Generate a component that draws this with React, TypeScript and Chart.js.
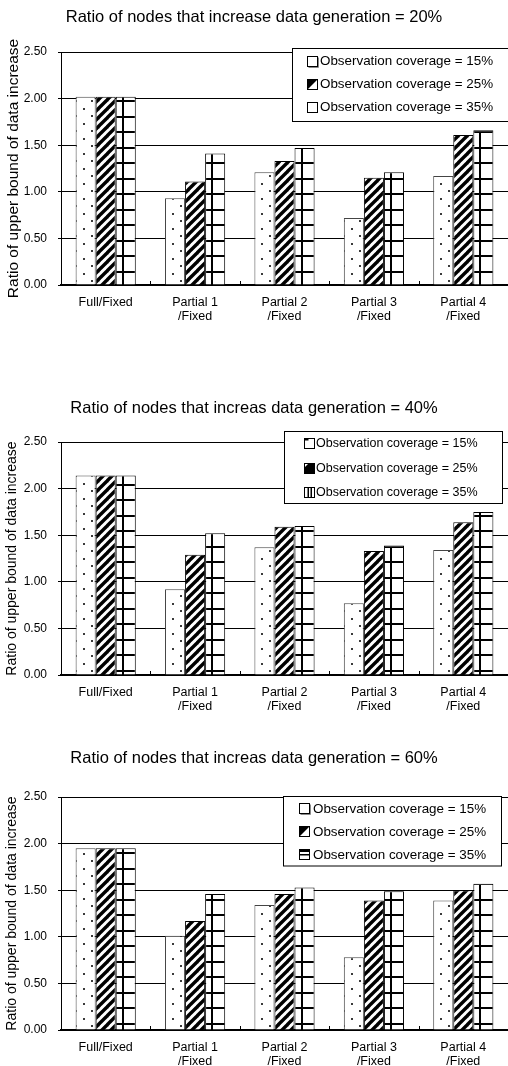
import { useEffect, useRef } from "react";
import { Chart, registerables } from "chart.js";

Chart.register(...registerables);

// ---- data ----
const categories: string[][] = [
  ["Full/Fixed"],
  ["Partial 1", "/Fixed"],
  ["Partial 2", "/Fixed"],
  ["Partial 3", "/Fixed"],
  ["Partial 4", "/Fixed"],
];
const seriesNames = [
  "Observation coverage = 15%",
  "Observation coverage = 25%",
  "Observation coverage = 35%",
];
const yTickValues = [0, 0.5, 1, 1.5, 2, 2.5];
const yAxisTitle = "Ratio of upper bound of data increase";

const title20 = "Ratio of nodes that increase data generation = 20%";
const title40 = "Ratio of nodes that increas data generation = 40%";
const title60 = "Ratio of nodes that increas data generation = 60%";

const cov15At20 = [2.02, 0.93, 1.21, 0.72, 1.17];
const cov25At20 = [2.02, 1.11, 1.33, 1.15, 1.61];
const cov35At20 = [2.02, 1.41, 1.47, 1.21, 1.66];

const cov15At40 = [2.14, 0.92, 1.37, 0.77, 1.34];
const cov25At40 = [2.14, 1.29, 1.59, 1.33, 1.64];
const cov35At40 = [2.14, 1.52, 1.6, 1.39, 1.75];

const cov15At60 = [1.95, 1.01, 1.34, 0.78, 1.39];
const cov25At60 = [1.95, 1.17, 1.46, 1.39, 1.5];
const cov35At60 = [1.95, 1.46, 1.53, 1.49, 1.57];

// ---- style ----
const FONT = "'Liberation Sans', Arial, sans-serif";
const CAT_PCT = 0.673;
const CANVAS_W = 508;
const CANVAS_H = 330;

type LegendStyle = {
  box: [number, number, number, number];
  rows: number[];
  iconX: number;
  textX: number;
  fontSize: number;
  icons: string[];
};

type Panel = {
  title: string;
  values: number[][];
  top: number;
  titlePad: [number, number];
  yTitleSize: number;
  gridPhase: number;
  legend: LegendStyle;
};

const panels: Panel[] = [
  {
    title: title20,
    values: [cov15At20, cov25At20, cov35At20],
    top: 0,
    titlePad: [7.6, 24.6],
    yTitleSize: 15.5,
    gridPhase: 14,
    legend: {
      box: [292, 47.5, 220, 73],
      rows: [60.7, 83.5, 106.7],
      iconX: 307,
      textX: 320,
      fontSize: 13.4,
      icons: ["shadow", "halfUL", "plain"],
    },
  },
  {
    title: title40,
    values: [cov15At40, cov25At40, cov35At40],
    top: 390,
    titlePad: [8.4, 23.8],
    yTitleSize: 14,
    gridPhase: 5,
    legend: {
      box: [284, 40.5, 218, 72],
      rows: [53, 77.5, 101.5],
      iconX: 304,
      textX: 316,
      fontSize: 12.5,
      icons: ["topMark", "mostlyBlack", "vbars"],
    },
  },
  {
    title: title60,
    values: [cov15At60, cov25At60, cov35At60],
    top: 745,
    titlePad: [3.6, 28.6],
    yTitleSize: 14,
    gridPhase: 7,
    legend: {
      box: [283, 50.5, 218, 69.5],
      rows: [63, 86, 109],
      iconX: 299,
      textX: 313,
      fontSize: 13.4,
      icons: ["shadow", "halfUL", "hbar"],
    },
  },
];

// ---- fill patterns ----
function makeTile(w: number, h: number, draw: (g: CanvasRenderingContext2D) => void) {
  const c = document.createElement("canvas");
  c.width = w;
  c.height = h;
  const g = c.getContext("2d")!;
  g.fillStyle = "#fff";
  g.fillRect(0, 0, w, h);
  draw(g);
  return c;
}

const dotTile = makeTile(16, 15, (g) => {
  g.fillStyle = "#3a3a3a";
  g.fillRect(4, 3, 2, 2);
  g.fillRect(12, 10, 2, 2);
});

const stripeTile = makeTile(9, 9, (g) => {
  g.strokeStyle = "#000";
  g.lineWidth = 3.4;
  for (const dx of [-9, 0, 9]) {
    g.beginPath();
    g.moveTo(dx - 1, 10);
    g.lineTo(dx + 10, -1);
    g.stroke();
  }
});

const gridTile = makeTile(40, 31, (g) => {
  g.fillStyle = "#000";
  g.fillRect(0, 0, 40, 2);
  g.fillRect(0, 15, 40, 2);
  g.fillRect(0, 0, 2, 31);
});

function barLeft(chart: Chart, dataIndex: number, datasetIndex: number) {
  const xs = chart.scales.x;
  const center = xs.getPixelForValue(dataIndex);
  const group = (xs.width / categories.length) * CAT_PCT;
  return center - group / 2 + (datasetIndex * group) / 3;
}

function patternFill(kind: number, gridPhase: number) {
  return (c: any) => {
    const chart: Chart = c.chart;
    if (c.type !== "data" || !chart.chartArea || !chart.scales.x) return "#fff";
    const ctx = chart.ctx;
    const left = barLeft(chart, c.dataIndex, c.datasetIndex);
    const bottom = chart.chartArea.bottom;
    if (kind === 0) {
      const p = ctx.createPattern(dotTile, "repeat")!;
      p.setTransform(new DOMMatrix().translate(Math.round(left + 3), Math.round(bottom)));
      return p;
    }
    if (kind === 1) {
      return ctx.createPattern(stripeTile, "repeat")!;
    }
    const p = ctx.createPattern(gridTile, "repeat")!;
    p.setTransform(new DOMMatrix().translate(Math.round(left + 6), Math.round(bottom - gridPhase)));
    return p;
  };
}

// ---- legend icon ----
function drawIcon(g: CanvasRenderingContext2D, kind: string, x: number, yc: number) {
  const s = 10;
  const y = Math.round(yc - s / 2) + 0.5;
  const xx = Math.round(x) + 0.5;
  g.save();
  g.fillStyle = "#fff";
  g.fillRect(xx, y, s, s);
  g.fillStyle = "#000";
  if (kind === "halfUL") {
    g.beginPath();
    g.moveTo(xx, y);
    g.lineTo(xx + s, y);
    g.lineTo(xx, y + s);
    g.closePath();
    g.fill();
  } else if (kind === "mostlyBlack") {
    g.beginPath();
    g.moveTo(xx + 4, y);
    g.lineTo(xx + s, y);
    g.lineTo(xx + s, y + s);
    g.lineTo(xx, y + s);
    g.lineTo(xx, y + 4);
    g.closePath();
    g.fill();
  } else if (kind === "vbars") {
    g.fillRect(xx + 3, y, 1.5, s);
    g.fillRect(xx + 6, y, 1.5, s);
  } else if (kind === "hbar") {
    g.fillRect(xx, y, s, 2.5);
    g.fillRect(xx, y + 4.5, s, 1.5);
  } else if (kind === "topMark") {
    g.fillRect(xx, y, 4, 2);
  }
  g.strokeStyle = "#000";
  g.lineWidth = 1;
  g.strokeRect(xx, y, s, s);
  if (kind === "shadow") {
    g.strokeStyle = "#888";
    g.beginPath();
    g.moveTo(xx + 1, y + s + 1);
    g.lineTo(xx + s + 1, y + s + 1);
    g.lineTo(xx + s + 1, y + 1);
    g.stroke();
  }
  g.restore();
}

function legendPlugin(style: LegendStyle) {
  return {
    id: "boxLegend",
    afterDraw(chart: Chart) {
      const g = chart.ctx;
      const [bx, by, bw, bh] = style.box;
      g.save();
      g.fillStyle = "#fff";
      g.fillRect(bx, by, bw, bh);
      g.strokeStyle = "#000";
      g.lineWidth = 1;
      g.strokeRect(Math.round(bx) + 0.5, Math.round(by) + 0.5, bw, bh);
      g.font = `${style.fontSize}px ${FONT}`;
      g.textBaseline = "middle";
      g.textAlign = "left";
      seriesNames.forEach((name, i) => {
        drawIcon(g, style.icons[i], style.iconX, style.rows[i]);
        g.fillStyle = "#000";
        g.fillText(name, style.textX, style.rows[i] + 1);
      });
      g.restore();
    },
  };
}

// short inward ticks between category groups on the x axis
const innerTicks = {
  id: "innerTicks",
  afterDatasetsDraw(chart: Chart) {
    const xs = chart.scales.x;
    const bottom = chart.chartArea.bottom;
    const g = chart.ctx;
    g.save();
    g.strokeStyle = "#000";
    g.lineWidth = 1;
    for (let i = 1; i < categories.length; i++) {
      const x = Math.round((xs.getPixelForValue(i - 1) + xs.getPixelForValue(i)) / 2) + 0.5;
      g.beginPath();
      g.moveTo(x, bottom);
      g.lineTo(x, bottom - 4);
      g.stroke();
    }
    g.restore();
  },
};

function buildConfig(p: Panel): any {
  const borders = ["#444", "#000", "#000"];
  return {
    type: "bar",
    data: {
      labels: categories,
      datasets: p.values.map((vals, k) => ({
        label: seriesNames[k],
        data: vals,
        backgroundColor: patternFill(k, p.gridPhase),
        borderColor: borders[k],
        borderWidth: 1,
        barPercentage: 1,
        categoryPercentage: CAT_PCT,
      })),
    },
    options: {
      responsive: false,
      animation: false,
      devicePixelRatio: 1,
      layout: { padding: 0 },
      plugins: {
        legend: { display: false },
        tooltip: { enabled: false },
        title: {
          display: true,
          text: p.title,
          color: "#000",
          font: { family: FONT, size: 16.5, weight: "normal", lineHeight: 1.2 },
          padding: { top: p.titlePad[0], bottom: p.titlePad[1] },
        },
      },
      scales: {
        x: {
          grid: { display: true, drawOnChartArea: false, drawTicks: false },
          border: { display: true, color: "#000", width: 2 },
          ticks: {
            color: "#000",
            font: { family: FONT, size: 12.5, lineHeight: 1.12 },
            padding: 11,
            maxRotation: 0,
            autoSkip: false,
          },
          afterFit: (s: any) => {
            s.height = CANVAS_H - 285;
          },
        },
        y: {
          min: 0,
          max: 2.5,
          afterBuildTicks: (s: any) => {
            s.ticks = yTickValues.map((v) => ({ value: v }));
          },
          ticks: {
            color: "#000",
            font: { family: FONT, size: 12 },
            padding: 11,
            callback: (v: any) => Number(v).toFixed(2),
          },
          grid: { color: "#000", lineWidth: 1, tickLength: 3 },
          border: { display: true, color: "#000", width: 1 },
          title: {
            display: true,
            text: yAxisTitle,
            color: "#000",
            font: { family: FONT, size: p.yTitleSize },
            padding: { top: 4, bottom: 0 },
          },
          afterFit: (s: any) => {
            s.width = 61;
          },
        },
      },
    },
    plugins: [innerTicks, legendPlugin(p.legend)],
  };
}

export default function App() {
  const refs = [
    useRef<HTMLCanvasElement>(null),
    useRef<HTMLCanvasElement>(null),
    useRef<HTMLCanvasElement>(null),
  ];

  useEffect(() => {
    const charts = panels.map((p, i) => new Chart(refs[i].current!, buildConfig(p)));
    return () => charts.forEach((c) => c.destroy());
  }, []);

  return (
    <div
      style={{
        position: "fixed",
        left: 0,
        top: 0,
        width: CANVAS_W,
        height: 1066,
        overflow: "hidden",
        background: "#fff",
      }}
    >
      {panels.map((p, i) => (
        <canvas
          key={i}
          ref={refs[i]}
          width={CANVAS_W}
          height={CANVAS_H}
          style={{ position: "absolute", left: 0, top: p.top, width: CANVAS_W, height: CANVAS_H }}
        />
      ))}
    </div>
  );
}
